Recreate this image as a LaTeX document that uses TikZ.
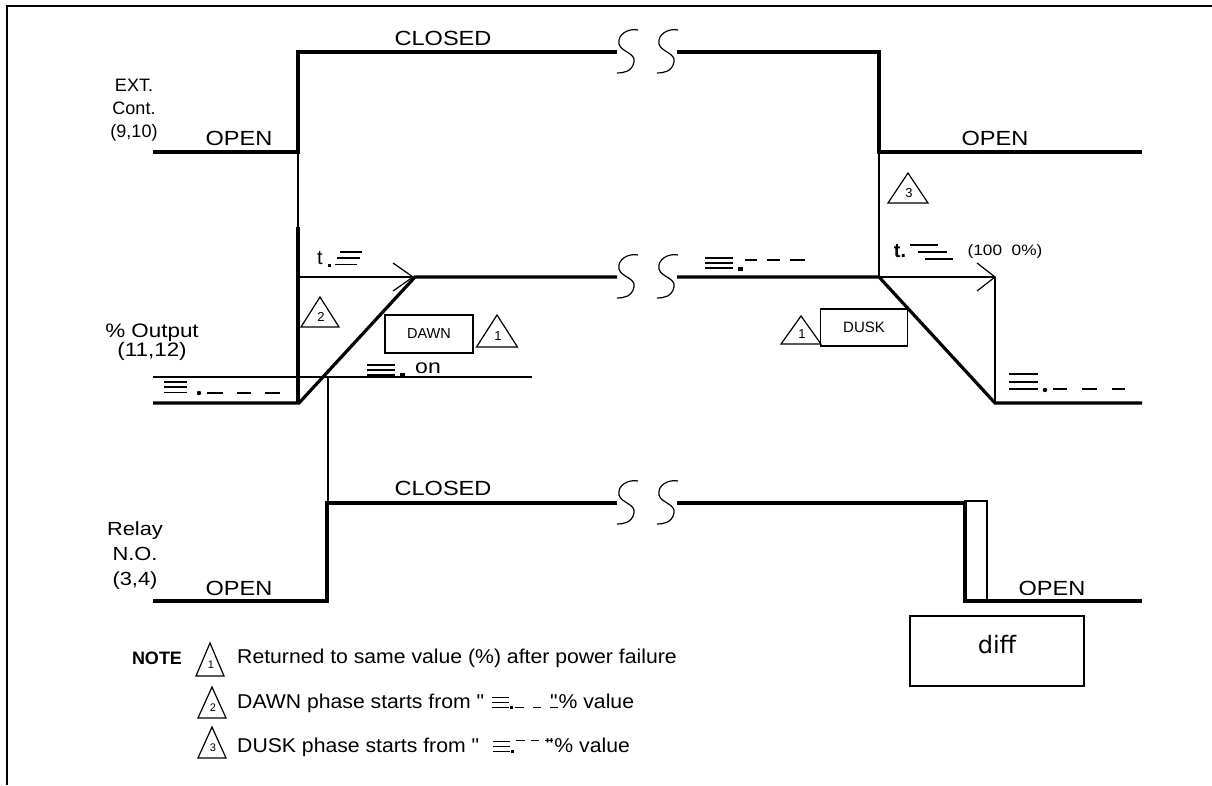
\documentclass[tikz,border=0pt]{standalone}
\usepackage{fontspec}
\setmainfont{Liberation Sans}
\newfontfamily\widefont[FakeStretch=1.15]{Liberation Sans}
\newfontfamily\notefont[FakeStretch=1.06]{Liberation Sans}
\newfontfamily\difffont{DejaVu Sans}
\newcommand\fs[1]{\fontsize{#1}{#1}\selectfont}
\newcommand\dawnsym{\kern2pt\rlap{\rule[0pt]{17pt}{1pt}}\rlap{\rule[5pt]{17pt}{1pt}}\rule[10pt]{17pt}{1pt}\kern1pt\rule[-1pt]{3pt}{3pt}\kern2pt\rule[0pt]{9pt}{1pt}\kern9pt\rule[0pt]{8pt}{1pt}\kern9pt\rule[0pt]{8pt}{1pt}}
\newcommand\dusksym{\kern2pt\rlap{\rule[0pt]{17pt}{1pt}}\rlap{\rule[5pt]{17pt}{1pt}}\rule[10pt]{17pt}{1pt}\kern1pt\rule[-1pt]{3pt}{3pt}\kern2pt\rule[11pt]{9pt}{1pt}\kern6pt\rule[11pt]{8pt}{1pt}\kern6pt\rule[11pt]{8pt}{1pt}}
\newcommand\warntri[6]{%
  \draw[fine] (#1,#2) -- ++(-#3,#4) -- ++(2*#3,0) -- cycle;
  \node[num] (#6) at (#1+1,#2+0.66*#4) {#5};}
\tikzset{
  sig/.style={line width=3.2pt},
  fine/.style={line width=1.2pt},
  framel/.style={line width=2.4pt},
  lbl/.style={inner sep=0pt, font=\widefont\fs{20.5}},
  sidelbl/.style={inner sep=0pt, align=center, font=\fontsize{18}{23}\selectfont},
  num/.style={inner sep=0pt, font=\fs{13}},
  notetxt/.style={inner sep=0pt, anchor=west, font=\notefont\fs{20}},
  phasebox/.style={draw, line width=1.2pt, inner sep=0pt},
  brk/.pic={\draw[fine] (11,-22) .. controls (2,-24) and (-10,-18) .. (-8,-8)
            .. controls (-6,0) and (9,1) .. (7,10) .. controls (5,20) and (-4,21) .. (-10,21);}
}
\begin{document}
\begin{tikzpicture}[x=1pt,y=-1pt]
\useasboundingbox[fill=white] (0,0) rectangle (1212,785);
% frame
\draw[framel] (7,785) -- (7,6) -- (1212,6);

% ---------- EXT. Cont. ----------
\draw[sig] (153,152) -- (298,152) -- (298,52) -- (617,52);
\draw[sig] (677,52) -- (879,52) -- (879,152) -- (1142,152);
\pic at (627,52) {brk};
\pic at (667,52) {brk};
\node[sidelbl] (extl) at (134,110) {EXT.\\Cont.\\(9,10)};
\node[lbl] (extopen1) at (239,138) {OPEN};
\node[lbl] (extclosed) at (443,38) {CLOSED};
\node[lbl] (extopen2) at (995,138) {OPEN};

% ---------- % Output ----------
\draw[fine] (298,152) -- (298,227);
\draw[sig] (298,227) -- (298,403);
\draw[sig] (153,403) -- (299,403) -- (415,277) -- (617,277);
\draw[sig] (677,277) -- (879,277) -- (995,403) -- (1142,403);
\pic at (627,277) {brk};
\pic at (667,277) {brk};
\node[inner sep=0pt, align=center, font=\widefont\fontsize{19.5}{19}\selectfont] (outl) at (152,342) {\% Output\\(11,12)};
% dawn timing arrow
\draw[fine] (298,277) -- (413,277);
\draw[fine] (393,263) -- (413,277) -- (393,291);
\node[inner sep=0pt, font=\fs{20}] (tdawn) at (320,258) {t};
\fill (327.5,263.5) rectangle (331,267);
\draw[fine] (340,252) -- (362,252) (337,258) -- (360,258) (335,264.5) -- (357,264.5);
% dusk timing arrow
\draw[fine] (879,152) -- (879,277) -- (995,277);
\draw[fine] (977,263) -- (995,277) -- (977,291);
\draw[fine] (995,277) -- (995,403);
\node[inner sep=0pt, font=\bfseries\fs{20}] (tdusk) at (900,251) {t.};
\draw[fine] (910,245) -- (938,245) (918,252) -- (947,252) (925,259) -- (953,259);
\node[inner sep=0pt, font=\widefont\fs{15}] (pct) at (1005,252) {(100\ \ 0\%)};
% threshold line
\draw[fine] (153,377) -- (532,377);
\draw[fine] (328,377) -- (328,503);
% symbols
\draw[fine] (164,382) -- (187,382) (164,387) -- (187,387) (164,392.5) -- (187,392.5);
\fill (199,393) circle (2.2);
\draw[fine] (207,393) -- (223,393) (237,393) -- (251,393) (265,393) -- (280,393);
\draw[fine] (367,365) -- (395,365) (367,370) -- (395,370) (367,375) -- (395,375);
\fill (400,373) rectangle (404.5,377);
\node[inner sep=0pt, font=\widefont\fs{20}] (onl) at (428,368) {on};
\draw[fine] (705,258) -- (733,258) (705,263) -- (733,263) (705,268) -- (733,268);
\fill (738,267) rectangle (742.5,271);
\draw[fine] (745,260) -- (757,260) (767,260) -- (780,260) (790,260) -- (805,260);
\draw[fine] (1009,374) -- (1038,374) (1009,382) -- (1038,382) (1009,389) -- (1038,389);
\fill (1045,390) circle (2.2);
\draw[fine] (1053,389) -- (1067,389) (1082,389) -- (1097,389) (1112,389) -- (1125,389);
% DAWN / DUSK boxes and triangles
\node[phasebox, minimum width=88pt, minimum height=38pt, font=\fs{14.5}] (dawn) at (429,334) {DAWN};
\node[phasebox, minimum width=87pt, minimum height=37pt, font=\fs{15}] (dusk) at (864,327.5) {DUSK};
\warntri{320}{297}{19}{30}{2}{t2}
\warntri{497}{315}{20.5}{32}{1}{t1a}
\warntri{801}{316}{20}{28}{1}{t1b}
\warntri{908}{173}{20}{30}{3}{t3}

% ---------- Relay ----------
\draw[sig] (153,601) -- (327,601) -- (327,503) -- (617,503);
\draw[sig] (677,503) -- (965,503) -- (965,601) -- (1142,601);
\pic at (627,503) {brk};
\pic at (667,503) {brk};
\draw[fine] (965,501) rectangle (987,601);
\node[inner sep=0pt, align=center, font=\widefont\fontsize{19}{25}\selectfont] (rell) at (135,556) {Relay\\N.O.\\(3,4)};
\node[lbl] (relopen1) at (239,588) {OPEN};
\node[lbl] (relclosed) at (443,488) {CLOSED};
\node[lbl] (relopen2) at (1052,588) {OPEN};

% ---------- diff ----------
\node[draw, line width=1.2pt, minimum width=174pt, minimum height=70pt, inner sep=0pt] (diffbox) at (997,651) {};
\node[inner sep=0pt, font=\difffont\fs{24}] (difft) at (997,645) {diff};

% ---------- Notes ----------
\node[inner sep=0pt, font=\bfseries\fs{18}] (note) at (157,658) {NOTE};
\warntri{210}{643}{14}{33}{\fs{11}1}{n1}
\warntri{212}{687}{14}{31}{\fs{11}2}{n2}
\warntri{212}{727}{14}{31}{\fs{11}3}{n3}
\node[notetxt] (r1) at (237,658) {Returned to same value (\%) after power failure};
\node[notetxt] (r2) at (237,703) {DAWN phase starts from "\ \dawnsym\kern-8pt"\kern1pt\% value};
\node[notetxt] (r3) at (237,747) {DUSK phase starts from "\ \ \dusksym\kern-7pt"\kern1pt\% value};
\end{tikzpicture}
\end{document}
